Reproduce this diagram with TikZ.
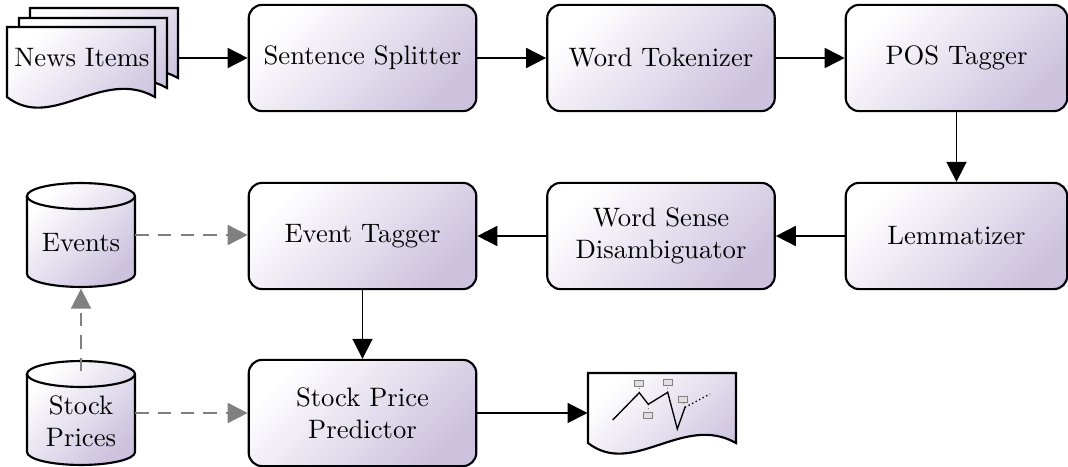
\documentclass[tikz,border=0pt]{standalone}
\usetikzlibrary{arrows.meta}
\definecolor{boxshade}{RGB}{204,194,222}
\begin{document}
\begin{tikzpicture}[x=0.01318cm,y=-0.01318cm,
  box/.style={draw,line width=0.8pt,rounded corners=5pt,minimum width=3.0cm,minimum height=1.40cm,align=center,top color=white,middle color=white,bottom color=boxshade,shading angle=45},
  store/.style={inner sep=0pt,minimum width=1.42cm,minimum height=1.40cm},
  page/.style={draw,line width=0.8pt,top color=white,middle color=white,bottom color=boxshade,shading angle=45},
  lid/.style={x radius=0.712cm,y radius=0.171cm},
  flow/.style={line width=0.65pt,-{Triangle[length=7.5pt,width=7.5pt]}},
  feed/.style={flow,gray,dash pattern=on 5pt off 3.5pt},
  chartpt/.style={draw=gray,fill=gray!25,line width=0.3pt,inner sep=0pt,minimum width=0.12cm,minimum height=0.08cm}]
\useasboundingbox (0,0) rectangle (1068,467);
\foreach \dx/\dy in {30/8,19/18,7/27}
  \path[page] (\dx,\dy) -- (\dx+148,\dy) -- (\dx+148,\dy+70)
    .. controls (\dx+95,\dy+40) and (\dx+45,\dy+105) .. (\dx,\dy+70) -- cycle;
\foreach \cy in {235,413} {
  \path[page] (27,\cy-39) -- (27,\cy+39) arc[start angle=180,end angle=360,lid]
    -- (135,\cy-39) arc[start angle=0,end angle=180,lid] -- cycle;
  \draw[line width=0.8pt] (27,\cy-39) arc[start angle=180,end angle=360,lid];
}
\node (news) at (82,58) {News Items};
\coordinate (news-r) at (177,58);
\node[box] (splitter) at (362.5,58) {Sentence Splitter};
\node[box] (tokenizer) at (661,58) {Word Tokenizer};
\node[box,minimum width=2.92cm] (pos) at (956.5,58) {POS Tagger};
\node[box,minimum width=2.92cm] (lemma) at (956.5,236) {Lemmatizer};
\node[box] (wsd) at (661,236) {Word Sense\\Disambiguator};
\node[box] (tagger) at (362.5,236) {Event Tagger};
\node[box] (predictor) at (362.5,413) {Stock Price\\Predictor};
\node[store,label={[yshift=-3pt]center:Events}] (events) at (81,235) {};
\node[store,label={[align=center,yshift=-3pt]center:Stock\\Prices}] (prices) at (81,413) {};
\path[page] (588,373) -- (736,373) -- (736,443)
  .. controls (683,413) and (633,478) .. (588,443) -- cycle;
\node[minimum width=1.95cm,minimum height=0.92cm] (chart) at (662,413) {};
\coordinate (p1) at (612.7,420);
\coordinate (p2) at (639.3,392.7);
\coordinate (p3) at (648.3,404.3);
\coordinate (p4) at (667.7,392.3);
\coordinate (p5) at (677.3,429);
\coordinate (p6) at (685,407.3);
\coordinate (p7) at (710,394);
\node[chartpt] (m2) at (639.3,383.3) {};
\node[chartpt] (m3) at (648.3,415) {};
\node[chartpt] (m4) at (667.7,382.3) {};
\node[chartpt] (m6) at (683,399) {};
\draw[gray,densely dotted,line width=0.4pt] (p2) -- (m2) (p3) -- (m3) (p4) -- (m4) (p6) -- (m6);
\draw[line width=0.5pt] (p1) -- (p2) -- (p3) -- (p4) -- (p5) -- (p6);
\draw[densely dotted,line width=0.5pt] (p6) -- (p7);
\draw[flow] (news-r) -- (splitter);
\draw[flow] (splitter) -- (tokenizer);
\draw[flow] (tokenizer) -- (pos);
\draw[flow] (pos) -- (lemma);
\draw[flow] (lemma) -- (wsd);
\draw[flow] (wsd) -- (tagger);
\draw[flow] (tagger) -- (predictor);
\draw[flow] (predictor.east) -- (predictor.east -| chart.west);
\draw[feed] (events) -- (events -| tagger.west);
\draw[feed] (prices) -- (prices -| predictor.west);
\draw[feed] ([yshift=-4.5pt]prices.north) -- (events.south);
\end{tikzpicture}
\end{document}
